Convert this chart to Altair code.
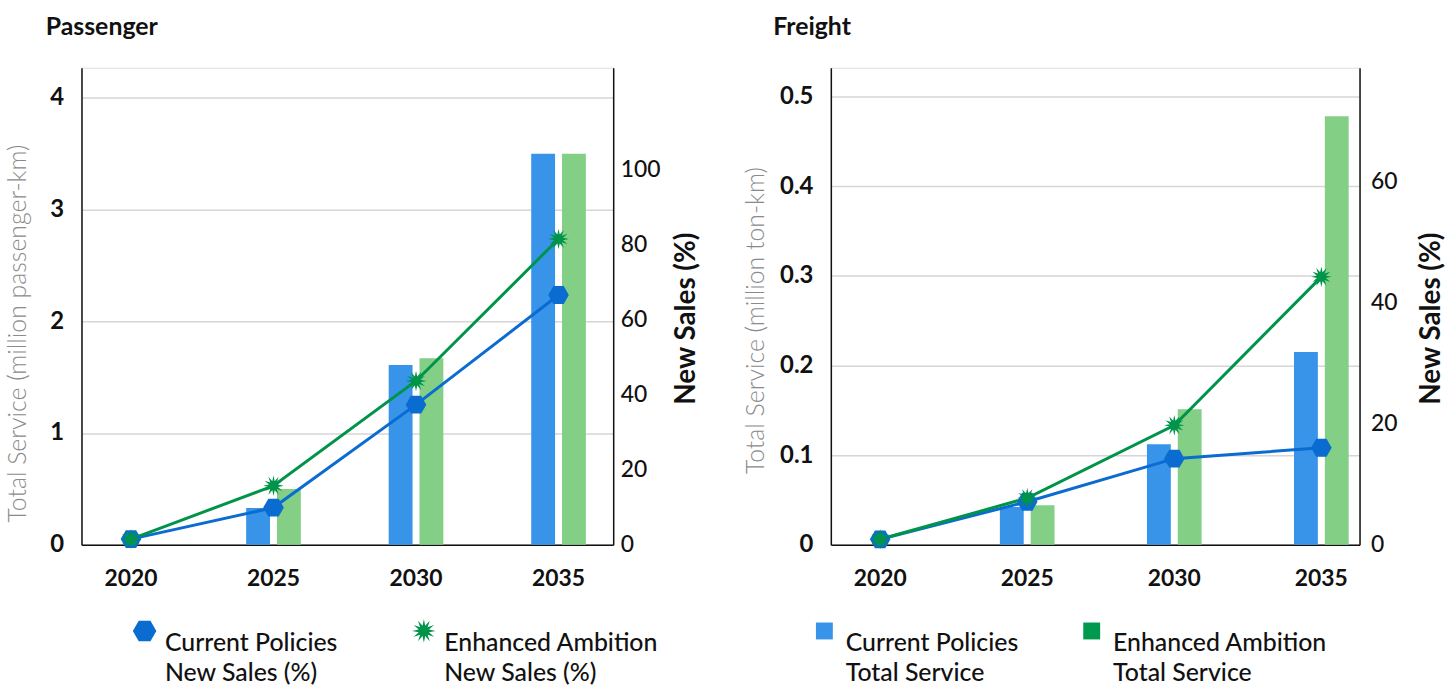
import altair as alt
import numpy as np
import pandas as pd

years = ["2020", "2025", "2030", "2035"]

# Passenger (left axis: million passenger-km, right axis: % new sales)
passenger_service_cp = [0.0, 0.33, 1.61, 3.50]
passenger_service_ea = [0.0, 0.50, 1.67, 3.50]
passenger_sales_cp = [1.5, 9.9, 37.3, 66.5]
passenger_sales_ea = [1.5, 15.7, 43.6, 81.4]

# Freight (left axis: million ton-km, right axis: % new sales)
freight_service_cp = [0.0, 0.042, 0.112, 0.215]
freight_service_ea = [0.0, 0.044, 0.151, 0.478]
freight_sales_cp = [0.9, 7.1, 14.2, 16.0]
freight_sales_ea = [0.9, 7.7, 19.7, 44.2]

BAR_CP = "Current Policies|Total Service"
BAR_EA = "Enhanced Ambition|Total Service"
LINE_CP = "Current Policies|New Sales (%)"
LINE_EA = "Enhanced Ambition|New Sales (%)"

C_BAR_CP = "#3794E8"
C_BAR_EA = "#83CF86"
C_BAR_EA_LEG = "#009A4E"
C_LINE_CP = "#0A6BD1"
C_LINE_EA = "#00944A"

FONT = "Lato"
INK = "#111111"

HEX = "M-1,0L-0.5,-0.866L0.5,-0.866L1,0L0.5,0.866L-0.5,0.866Z"
_pts = []
for i in range(24):
    r = 1.0 if i % 2 == 0 else 0.45
    a = np.pi * i / 12 - np.pi / 2
    _pts.append(f"{r*np.cos(a):.3f},{r*np.sin(a):.3f}")
STAR = "M" + "L".join(_pts) + "Z"


def long_df(cp, ea, name_cp, name_ea):
    rows = []
    for y, v in zip(years, cp):
        rows.append({"year": y, "series": name_cp, "value": v})
    for y, v in zip(years, ea):
        rows.append({"year": y, "series": name_ea, "value": v})
    return pd.DataFrame(rows)


ALL_SERIES = [BAR_CP, BAR_EA, LINE_CP, LINE_EA]
ALL_COLORS = [C_BAR_CP, C_BAR_EA, C_LINE_CP, C_LINE_EA]


def make_legend(legend_x, legend_y, col_pad, sym_size, label_offset, sym_type=None):
    kw = dict(title=None, orient="none", legendX=legend_x, legendY=legend_y,
              direction="horizontal", columns=2, columnPadding=col_pad,
              labelExpr="split(datum.label, '|')", labelFont=FONT, labelFontSize=25,
              labelColor=INK, labelFontWeight=500, labelLimit=400,
              labelOffset=label_offset, symbolSize=sym_size, symbolStrokeWidth=0,
              symbolOpacity=1, padding=0, labelBaseline="top")
    if sym_type:
        kw["symbolType"] = sym_type
    return alt.Legend(**kw)


def panel(name, title_dx, s_cp, s_ea, n_cp, n_ea, left_title, left_max, left_values,
          left_fmt, left_title_pad, left_title_y, right_max, right_values, right_label_pad,
          right_title_pad, x_pad_inner, x_pad_outer, x_align, legend_kind, legend_x,
          legend_y, col_pad, width, height):
    bars_df = long_df(s_cp, s_ea, BAR_CP, BAR_EA)
    lines_df = long_df(n_cp, n_ea, LINE_CP, LINE_EA)

    x_scale = alt.Scale(type="band", paddingInner=x_pad_inner, paddingOuter=x_pad_outer,
                        align=x_align)
    x = alt.X("year:N", scale=x_scale,
              axis=alt.Axis(title=None, labelFont=FONT, labelFontSize=23,
                            labelFontWeight="bold", labelColor=INK, labelPadding=23,
                            labelAngle=0, ticks=False, domainColor=INK, domainWidth=1.5))

    y_left = alt.Y("value:Q",
                   scale=alt.Scale(domain=[0, left_max], nice=False, zero=True),
                   axis=alt.Axis(title=left_title, titleFont=FONT, titleFontSize=25,
                                 titleFontWeight=300, titleColor="#8a8a8a",
                                 titlePadding=left_title_pad, titleY=left_title_y,
                                 values=left_values, format=left_fmt,
                                 labelFont=FONT, labelFontSize=24, labelFontWeight="bold",
                                 labelColor=INK, labelPadding=18, ticks=False,
                                 grid=True, gridColor="#d6d6d6", gridWidth=1.5,
                                 domainColor=INK, domainWidth=1.5))
    y_right = alt.Y("value:Q",
                    scale=alt.Scale(domain=[0, right_max], nice=False, zero=True),
                    axis=alt.Axis(orient="right", title="New Sales (%)", titleFont=FONT,
                                  titleFontSize=28, titleFontWeight="bold", titleColor=INK,
                                  titleAngle=270, titleBaseline="top",
                                  titlePadding=right_title_pad, titleY=252,
                                  values=right_values, labelFont=FONT, labelFontSize=23,
                                  labelFontWeight=500, labelColor=INK,
                                  labelPadding=right_label_pad, ticks=False, grid=False,
                                  domainColor=INK, domainWidth=1.5))

    bars = alt.Chart(bars_df).mark_bar().encode(
        x=x,
        xOffset=alt.XOffset("series:N",
                            scale=alt.Scale(domain=[BAR_CP, BAR_EA], paddingInner=0.226,
                                            paddingOuter=0)),
        y=y_left,
        fill=alt.Fill("series:N", scale=alt.Scale(domain=ALL_SERIES, range=ALL_COLORS),
                      legend=None),
    )
    left_layers = [bars]

    lines = alt.Chart(lines_df).mark_line(strokeWidth=3).encode(
        x=x, y=y_right,
        stroke=alt.Stroke("series:N",
                          scale=alt.Scale(domain=ALL_SERIES, range=ALL_COLORS),
                          legend=None),
        detail="series:N",
    )
    shape_scale = alt.Scale(domain=[LINE_CP, LINE_EA], range=[HEX, STAR])
    if legend_kind == "lines":
        leg = make_legend(legend_x, legend_y, col_pad, 560, 8)
        points = alt.Chart(lines_df).mark_point(filled=True, size=430, opacity=1,
                                                strokeWidth=0).encode(
            x=x, y=y_right,
            color=alt.Color("series:N",
                            scale=alt.Scale(domain=[LINE_CP, LINE_EA],
                                            range=[C_LINE_CP, C_LINE_EA]),
                            legend=leg),
            shape=alt.Shape("series:N", scale=shape_scale, legend=leg),
        )
    else:
        points = alt.Chart(lines_df).mark_point(filled=True, size=430, opacity=1,
                                                strokeWidth=0).encode(
            x=x, y=y_right,
            fill=alt.Fill("series:N", scale=alt.Scale(domain=ALL_SERIES, range=ALL_COLORS),
                          legend=None),
            shape=alt.Shape("series:N", scale=shape_scale, legend=None),
        )
        leg = make_legend(legend_x, legend_y, col_pad, 289, 9, "square")
        hidden = alt.Chart(bars_df).mark_point(shape="square", filled=True, size=0,
                                               strokeWidth=0).encode(
            x=x, y=y_left,
            color=alt.Color("series:N",
                            scale=alt.Scale(domain=[BAR_CP, BAR_EA],
                                            range=[C_BAR_CP, C_BAR_EA_LEG]),
                            legend=leg),
        )
        left_layers.append(hidden)

    chart = alt.layer(
        alt.layer(*left_layers),
        alt.layer(lines, points),
    ).resolve_scale(y="independent").properties(
        width=width, height=height,
        title=alt.TitleParams(name, anchor="start", frame="group", dx=title_dx,
                              font=FONT, fontSize=25, fontWeight="bold", color=INK,
                              offset=28),
    )
    return chart


passenger = panel(
    "Passenger", -36,
    passenger_service_cp, passenger_service_ea, passenger_sales_cp, passenger_sales_ea,
    "Total Service (million passenger-km)", 4.27, [0, 1, 2, 3, 4], "d", 19, 267,
    127, [0, 20, 40, 60, 80, 100], 7, 13,
    0.6165, 0.1736, 0.448,
    "lines", 51, 74 + 480, 74, 535, 480,
)

freight = panel(
    "Freight", -58,
    freight_service_cp, freight_service_ea, freight_sales_cp, freight_sales_ea,
    "Total Service (million ton-km)", 0.532, [0, 0.1, 0.2, 0.3, 0.4, 0.5], ".1~f", 11, 254,
    78.7, [0, 20, 40, 60], 11, 21,
    0.628, 0.1115, 0.67,
    "bars", -19, 74 + 480, 61, 532, 480,
)

chart = alt.hconcat(passenger, freight, spacing=41).resolve_scale(
    color="independent", fill="independent", shape="independent", stroke="independent",
    x="independent",
).properties(
    padding={"left": 5, "top": 12, "right": 0, "bottom": 0},
).configure_view(strokeWidth=0).configure(
    background="white",
    style={"guide-label": {"lineHeight": 30}},
)

chart.save("out.html", embed_options={"renderer": "svg", "actions": False})
